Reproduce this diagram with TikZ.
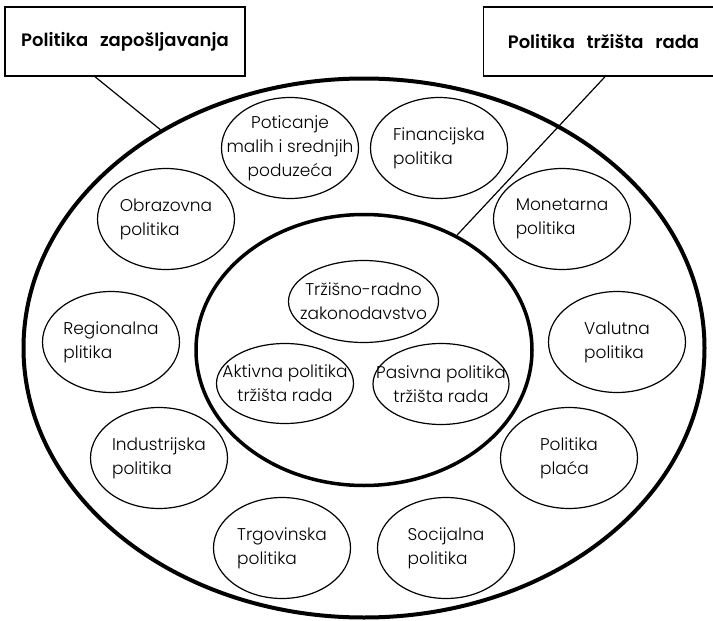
\documentclass[tikz,border=0pt]{standalone}
\usepackage{fontspec}
\setmainfont{Poppins}[UprightFont=* Light, BoldFont=* SemiBold]
\usetikzlibrary{shapes.geometric}
\newcommand{\wgap}{\hspace{0.65em}}
\tikzset{
  ring/.style={draw, ellipse, inner sep=0pt},
  pol/.style={draw, ellipse, line width=1.2pt, minimum width=137pt, minimum height=101pt,
    inner sep=-30pt, font=\fontsize{17}{24}\selectfont},
  core/.style={pol, align=center},
  titlebox/.style={draw, line width=1.5pt, minimum width=240pt, minimum height=69pt,
    font=\bfseries\fontsize{18}{24}\selectfont},
}
\begin{document}
\begin{tikzpicture}[x=1pt, y=-1pt]
  \useasboundingbox (0,0) rectangle (713,621);
  % the two rings
  \node[ring, line width=4pt, minimum width=681pt, minimum height=539pt] (outer) at (364,348) {};
  \node[ring, line width=3.5pt, minimum width=336pt, minimum height=271pt] (inner) at (364,350) {};
  % policies on the outer ring
  \foreach \n/\x/\y/\al/\t in {pot/290/148/center/{Poticanje\\malih i srednjih\\poduzeća},
      fin/439/148/left/{Financijska\\politika}, mon/562/219/left/{Monetarna\\politika},
      val/617/342/left/{Valutna\\politika}, pla/569/458/left/{Politika\\plaća},
      soc/446/548/left/{Socijalna\\politika}, trg/282/548/left/{Trgovinska\\politika},
      ind/159/458/left/{Industrijska\\politika}, reg/111/342/left/{Regionalna\\plitika},
      obr/166/219/left/{Obrazovna\\politika}}{
    \node[pol, align=\al] (\n) at (\x,\y) {\t};
  }
  % labour market core
  \node[core, minimum width=150pt, minimum height=82pt] (zak) at (363.5,301.5) {Tržišno-radno\\zakonodavstvo};
  \node[core, minimum width=137pt, minimum height=80pt] (akt) at (285,383.5) {Aktivna politika\\tržišta rada};
  \node[core, minimum width=136pt, minimum height=81pt] (pas) at (441,384) {Pasivna politika\\tržišta rada};
  % headings
  \node[titlebox] (zbox) at (125,41.5) {Politika\wgap zapošljavanja};
  \node[titlebox] (tbox) at (603.5,41.5) {Politika\wgap tržišta\wgap rada};
  \draw[line width=1.2pt] ([xshift=-30pt]zbox.south) -- (outer.133.5);
  \draw[line width=1.2pt] ([xshift=1.5pt]tbox.south) -- (inner.51.8);
\end{tikzpicture}
\end{document}
